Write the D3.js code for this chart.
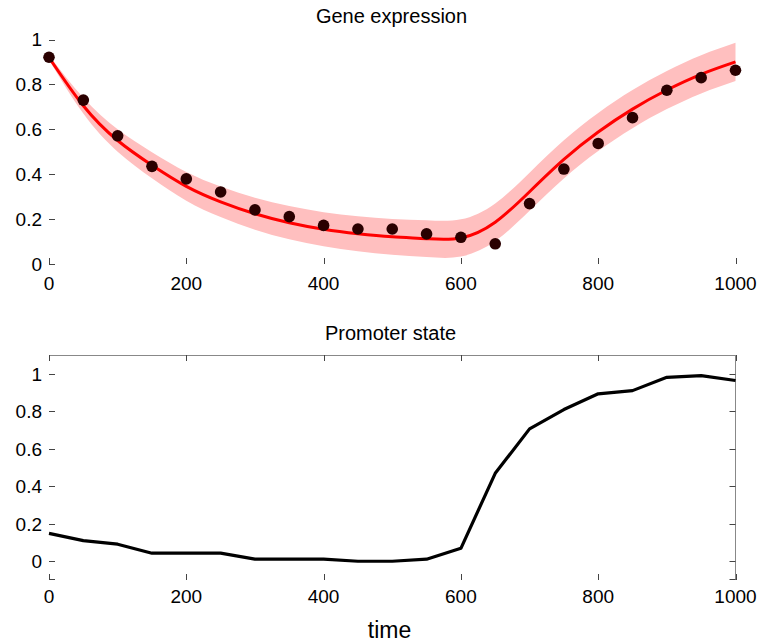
<!DOCTYPE html>
<html>
<head>
<meta charset="utf-8">
<script src="https://cdn.jsdelivr.net/npm/d3@7/dist/d3.min.js"></script>
<style>
  html, body { margin: 0; padding: 0; background: #fff; }
  text { font-family: "Liberation Sans", Arial, Helvetica, sans-serif; fill: #000; }
</style>
</head>
<body>
<svg id="chart" width="761" height="644"></svg>
<script>
// ---------------- data ----------------
const times = [0, 50, 100, 150, 200, 250, 300, 350, 400, 450, 500, 550, 600, 650, 700, 750, 800, 850, 900, 950, 1000];
const geneObserved = [0.921, 0.730, 0.571, 0.435, 0.379, 0.321, 0.241, 0.211, 0.172, 0.156, 0.156, 0.134, 0.119, 0.090, 0.269, 0.423, 0.537, 0.652, 0.774, 0.830, 0.863];
const geneMean = [0.920, 0.705, 0.550, 0.440, 0.346, 0.277, 0.224, 0.184, 0.155, 0.135, 0.121, 0.113, 0.116, 0.186, 0.322, 0.466, 0.588, 0.690, 0.775, 0.845, 0.900];
const geneBandHalf = [0.010, 0.035, 0.050, 0.058, 0.064, 0.068, 0.071, 0.074, 0.076, 0.078, 0.080, 0.082, 0.083, 0.084, 0.085, 0.085, 0.085, 0.085, 0.085, 0.085, 0.085];
const promoterState = [0.149, 0.110, 0.091, 0.043, 0.043, 0.043, 0.011, 0.011, 0.011, 0.000, 0.000, 0.011, 0.069, 0.469, 0.706, 0.809, 0.893, 0.910, 0.981, 0.990, 0.964];
const xTicks = [0, 200, 400, 600, 800, 1000];
const yTicks = [0, 0.2, 0.4, 0.6, 0.8, 1];
const yTickLabels = ["0", "0.2", "0.4", "0.6", "0.8", "1"];
const titles = ["Gene expression", "Promoter state"];
const xLabel = "time";

// ---------------- layout ----------------
const svg = d3.select("#chart");
const left = 49, right = 735.5;
const x = d3.scaleLinear().domain([0, 1000]).range([left, right]);

const yTop = d3.scaleLinear().domain([0, 1]).range([264, 39.5]);
const yBot = d3.scaleLinear().domain([-0.1, 1.1]).range([580, 355]);

const tickColor = "#444";
const boxColor = "#888";
const tickLen = 6;
const fs = 19;
const titleFs = 20;

// ---------------- top panel ----------------
const topG = svg.append("g");

const bandData = times.map((t, i) => ({ t, lo: geneMean[i] - geneBandHalf[i], hi: geneMean[i] + geneBandHalf[i] }));
topG.append("path")
  .datum(bandData)
  .attr("fill", "#ffbfbf")
  .attr("d", d3.area().curve(d3.curveNatural)
    .x(d => x(d.t)).y0(d => yTop(d.lo)).y1(d => yTop(d.hi)));

topG.append("path")
  .datum(times.map((t, i) => ({ t, v: geneMean[i] })))
  .attr("fill", "none")
  .attr("stroke", "#ff0000")
  .attr("stroke-width", 3)
  .attr("d", d3.line().curve(d3.curveNatural).x(d => x(d.t)).y(d => yTop(d.v)));

topG.selectAll("circle.obs")
  .data(times.map((t, i) => ({ t, v: geneObserved[i] })))
  .join("circle")
  .attr("class", "obs")
  .attr("cx", d => x(d.t))
  .attr("cy", d => yTop(d.v))
  .attr("r", 5.8)
  .attr("fill", "#2a0000");

topG.selectAll("line.yt")
  .data(yTicks)
  .join("line")
  .attr("class", "yt")
  .attr("x1", left).attr("x2", left + tickLen)
  .attr("y1", d => Math.round(yTop(d)) + 0.5).attr("y2", d => Math.round(yTop(d)) + 0.5)
  .attr("stroke", tickColor).attr("stroke-width", 1);
topG.selectAll("text.yl")
  .data(yTicks)
  .join("text")
  .attr("class", "yl")
  .attr("x", 42).attr("y", d => yTop(d))
  .attr("dy", "0.36em")
  .attr("text-anchor", "end")
  .attr("font-size", fs)
  .text((d, i) => yTickLabels[i]);

topG.selectAll("line.xt")
  .data(xTicks)
  .join("line")
  .attr("class", "xt")
  .attr("x1", d => Math.round(x(d)) + 0.5).attr("x2", d => Math.round(x(d)) + 0.5)
  .attr("y1", yTop(0)).attr("y2", yTop(0) - tickLen)
  .attr("stroke", tickColor).attr("stroke-width", 1);
topG.selectAll("text.xl")
  .data(xTicks)
  .join("text")
  .attr("class", "xl")
  .attr("x", d => x(d)).attr("y", 290)
  .attr("text-anchor", "middle")
  .attr("font-size", fs)
  .text(d => d);

topG.append("text")
  .attr("x", 391.5).attr("y", 23)
  .attr("text-anchor", "middle")
  .attr("font-size", titleFs)
  .text(titles[0]);

// ---------------- bottom panel ----------------
const botG = svg.append("g");

botG.append("line")
  .attr("x1", left).attr("x2", right)
  .attr("y1", yBot(1.1) + 0.5).attr("y2", yBot(1.1) + 0.5)
  .attr("stroke", boxColor).attr("stroke-width", 1);
botG.append("line")
  .attr("x1", Math.round(right) - 0.5).attr("x2", Math.round(right) - 0.5)
  .attr("y1", yBot(1.1)).attr("y2", yBot(-0.1))
  .attr("stroke", boxColor).attr("stroke-width", 1);

botG.selectAll("line.corner")
  .data([[left, left + tickLen], [right - tickLen, right]])
  .join("line")
  .attr("class", "corner")
  .attr("x1", d => d[0]).attr("x2", d => d[1])
  .attr("y1", yBot(-0.1) - 0.5).attr("y2", yBot(-0.1) - 0.5)
  .attr("stroke", tickColor).attr("stroke-width", 1);

botG.selectAll("line.ytl")
  .data(yTicks)
  .join("line")
  .attr("class", "ytl")
  .attr("x1", left).attr("x2", left + tickLen)
  .attr("y1", d => Math.round(yBot(d)) + 0.5).attr("y2", d => Math.round(yBot(d)) + 0.5)
  .attr("stroke", tickColor).attr("stroke-width", 1);
botG.selectAll("line.ytr")
  .data(yTicks)
  .join("line")
  .attr("class", "ytr")
  .attr("x1", right - tickLen).attr("x2", right)
  .attr("y1", d => Math.round(yBot(d)) + 0.5).attr("y2", d => Math.round(yBot(d)) + 0.5)
  .attr("stroke", tickColor).attr("stroke-width", 1);
botG.selectAll("text.yl")
  .data(yTicks)
  .join("text")
  .attr("class", "yl")
  .attr("x", 42).attr("y", d => yBot(d))
  .attr("dy", "0.36em")
  .attr("text-anchor", "end")
  .attr("font-size", fs)
  .text((d, i) => yTickLabels[i]);

botG.selectAll("line.xtb")
  .data(xTicks)
  .join("line")
  .attr("class", "xtb")
  .attr("x1", d => Math.round(x(d)) + 0.5).attr("x2", d => Math.round(x(d)) + 0.5)
  .attr("y1", yBot(-0.1)).attr("y2", yBot(-0.1) - tickLen)
  .attr("stroke", tickColor).attr("stroke-width", 1);
botG.selectAll("line.xtt")
  .data(xTicks)
  .join("line")
  .attr("class", "xtt")
  .attr("x1", d => Math.round(x(d)) + 0.5).attr("x2", d => Math.round(x(d)) + 0.5)
  .attr("y1", yBot(1.1)).attr("y2", yBot(1.1) + tickLen)
  .attr("stroke", tickColor).attr("stroke-width", 1);
botG.selectAll("text.xl")
  .data(xTicks)
  .join("text")
  .attr("class", "xl")
  .attr("x", d => x(d)).attr("y", 603)
  .attr("text-anchor", "middle")
  .attr("font-size", fs)
  .text(d => d);

botG.append("path")
  .datum(times.map((t, i) => ({ t, v: promoterState[i] })))
  .attr("fill", "none")
  .attr("stroke", "#000")
  .attr("stroke-width", 3.2)
  .attr("stroke-linejoin", "round")
  .attr("d", d3.line().x(d => x(d.t)).y(d => yBot(d.v)));

botG.append("text")
  .attr("x", 390.5).attr("y", 340)
  .attr("text-anchor", "middle")
  .attr("font-size", titleFs)
  .text(titles[1]);

botG.append("text")
  .attr("x", 389.5).attr("y", 637.5)
  .attr("text-anchor", "middle")
  .attr("font-size", 23)
  .text(xLabel);
</script>
</body>
</html>
